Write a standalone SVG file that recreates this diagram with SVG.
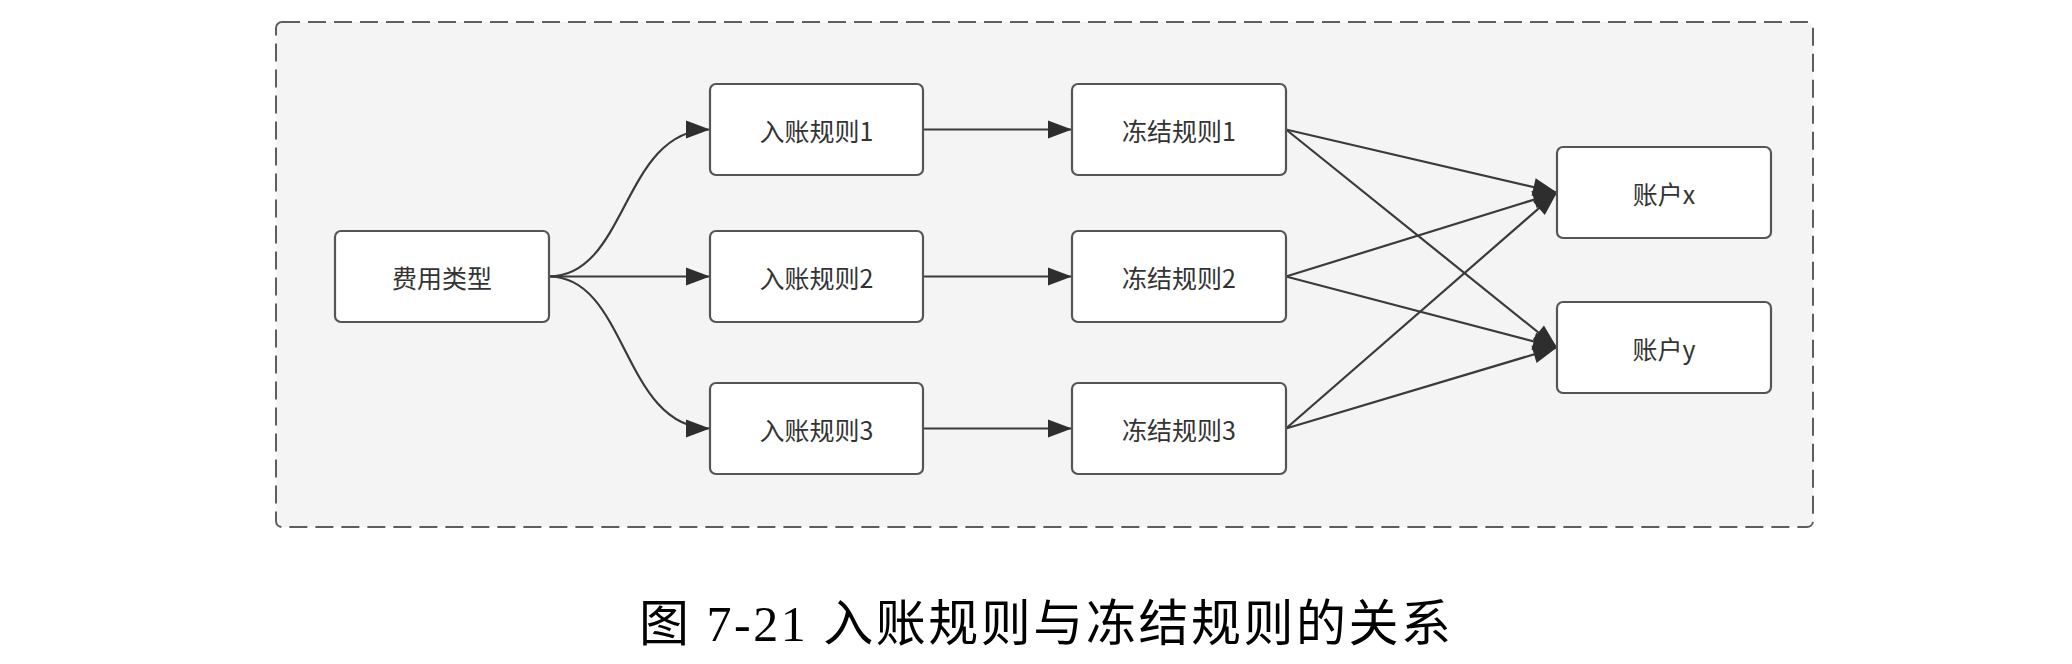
<svg xmlns="http://www.w3.org/2000/svg" width="2072" height="664" viewBox="0 0 2072 664">
<style>
.node rect{fill:#ffffff;stroke:#555555;stroke-width:2.2}
.node text{font-family:"Noto Sans CJK SC","Noto Sans",sans-serif;font-size:25px;fill:#333333;text-anchor:middle;dominant-baseline:central}
.edge{fill:none;stroke:#3a3a3a;stroke-width:2.2;marker-end:url(#arr)}
.title{font-family:"Liberation Serif","Noto Sans CJK SC",serif;font-size:50px;fill:#000000;text-anchor:middle;dominant-baseline:central}
</style>
<defs>
<marker id="arr" markerUnits="userSpaceOnUse" markerWidth="26" markerHeight="20" refX="25" refY="10" orient="auto">
<path d="M1,1 L25,10 L1,19 z" fill="#2e2e2e"/>
</marker>
</defs>
<rect width="2072" height="664" fill="#ffffff"/>
<rect id="container" x="276" y="22" width="1537" height="505" rx="6" fill="#f4f4f4" stroke="#5e5e5e" stroke-width="2" stroke-dasharray="18 8"/>
<g id="connectors">
<path class="edge" d="M549,276.5 C628,276.5 622,129.5 710,129.5"/>
<path class="edge" d="M549,276.5 L710,276.5"/>
<path class="edge" d="M549,276.5 C628,276.5 622,428.5 710,428.5"/>
<path class="edge" d="M923,129.5 L1072,129.5"/>
<path class="edge" d="M923,276.5 L1072,276.5"/>
<path class="edge" d="M923,428.5 L1072,428.5"/>
<path class="edge" d="M1286,129.5 L1557,192.5"/>
<path class="edge" d="M1286,129.5 L1557,347.5"/>
<path class="edge" d="M1286,276.5 L1557,192.5"/>
<path class="edge" d="M1286,276.5 L1557,347.5"/>
<path class="edge" d="M1286,428.5 L1557,192.5"/>
<path class="edge" d="M1286,428.5 L1557,347.5"/>
</g>
<g id="n-feiyong" class="node"><rect x="335" y="231" width="214" height="91" rx="6"/><text x="442" y="276.5">费用类型</text></g>
<g id="n-ruzhang1" class="node"><rect x="710" y="84" width="213" height="91" rx="6"/><text x="816.5" y="129.5">入账规则1</text></g>
<g id="n-ruzhang2" class="node"><rect x="710" y="231" width="213" height="91" rx="6"/><text x="816.5" y="276.5">入账规则2</text></g>
<g id="n-ruzhang3" class="node"><rect x="710" y="383" width="213" height="91" rx="6"/><text x="816.5" y="428.5">入账规则3</text></g>
<g id="n-dongjie1" class="node"><rect x="1072" y="84" width="214" height="91" rx="6"/><text x="1179" y="129.5">冻结规则1</text></g>
<g id="n-dongjie2" class="node"><rect x="1072" y="231" width="214" height="91" rx="6"/><text x="1179" y="276.5">冻结规则2</text></g>
<g id="n-dongjie3" class="node"><rect x="1072" y="383" width="214" height="91" rx="6"/><text x="1179" y="428.5">冻结规则3</text></g>
<g id="n-zhanghux" class="node"><rect x="1557" y="147" width="214" height="91" rx="6"/><text x="1664" y="192.5">账户x</text></g>
<g id="n-zhanghuy" class="node"><rect x="1557" y="302" width="214" height="91" rx="6"/><text x="1664" y="347.5">账户y</text></g>
<text class="title" x="1045" y="624" textLength="812" lengthAdjust="spacing">图 7-21 入账规则与冻结规则的关系</text>
</svg>
